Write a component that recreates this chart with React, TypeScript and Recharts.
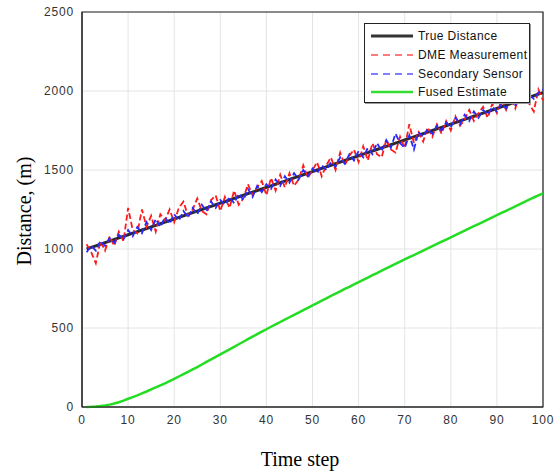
import React from 'react';
import { LineChart, Line, XAxis, YAxis, CartesianGrid, ReferenceArea } from 'recharts';

// time steps 1..100
const steps = [
  1, 2, 3, 4, 5, 6, 7, 8, 9, 10, 11, 12, 13, 14, 15, 16, 17, 18, 19, 20,
  21, 22, 23, 24, 25, 26, 27, 28, 29, 30, 31, 32, 33, 34, 35, 36, 37, 38, 39, 40,
  41, 42, 43, 44, 45, 46, 47, 48, 49, 50, 51, 52, 53, 54, 55, 56, 57, 58, 59, 60,
  61, 62, 63, 64, 65, 66, 67, 68, 69, 70, 71, 72, 73, 74, 75, 76, 77, 78, 79, 80,
  81, 82, 83, 84, 85, 86, 87, 88, 89, 90, 91, 92, 93, 94, 95, 96, 97, 98, 99, 100,
];

const trueDistance = [
  1000, 1010, 1020, 1030, 1040, 1050, 1060, 1070, 1080, 1090, 1100, 1110, 1120, 1130, 1140, 1150, 1160, 1170, 1180, 1190,
  1200, 1210, 1220, 1230, 1240, 1250, 1260, 1270, 1280, 1290, 1300, 1310, 1320, 1330, 1340, 1350, 1360, 1370, 1380, 1390,
  1400, 1410, 1420, 1430, 1440, 1450, 1460, 1470, 1480, 1490, 1500, 1510, 1520, 1530, 1540, 1550, 1560, 1570, 1580, 1590,
  1600, 1610, 1620, 1630, 1640, 1650, 1660, 1670, 1680, 1690, 1700, 1710, 1720, 1730, 1740, 1750, 1760, 1770, 1780, 1790,
  1800, 1810, 1820, 1830, 1840, 1850, 1860, 1870, 1880, 1890, 1900, 1910, 1920, 1930, 1940, 1950, 1960, 1970, 1980, 1990,
];

const dmeMeasurement = [
  1030, 980, 910, 1050, 990, 1080, 1020, 1110, 1050, 1260, 1120, 1100, 1250, 1140, 1210, 1110, 1220, 1180, 1250, 1170,
  1260, 1300, 1210, 1250, 1320, 1240, 1220, 1310, 1340, 1240, 1330, 1260, 1370, 1280, 1320, 1410, 1340, 1390, 1430, 1340,
  1450, 1370, 1470, 1390, 1480, 1400, 1440, 1530, 1450, 1500, 1550, 1460, 1530, 1580, 1500, 1610, 1530, 1590, 1630, 1550,
  1650, 1560, 1670, 1600, 1580, 1690, 1630, 1610, 1710, 1640, 1790, 1670, 1740, 1680, 1770, 1710, 1790, 1730, 1810, 1750,
  1840, 1780, 1820, 1880, 1810, 1860, 1900, 1830, 1920, 1860, 1940, 1880, 1960, 1890, 1990, 2020, 1920, 1870, 2010, 1940,
];

const secondarySensor = [
  980, 1020, 990, 1050, 1020, 1070, 1040, 1090, 1060, 1120, 1080, 1140, 1100, 1170, 1120, 1190, 1140, 1200, 1160, 1220,
  1180, 1240, 1200, 1260, 1220, 1280, 1240, 1300, 1260, 1310, 1280, 1330, 1290, 1350, 1310, 1380, 1330, 1400, 1360, 1410,
  1380, 1440, 1400, 1460, 1420, 1480, 1440, 1500, 1460, 1510, 1480, 1530, 1500, 1550, 1520, 1580, 1540, 1600, 1560, 1620,
  1580, 1640, 1600, 1670, 1620, 1690, 1640, 1730, 1670, 1640, 1720, 1630, 1740, 1710, 1760, 1730, 1780, 1750, 1800, 1770,
  1830, 1790, 1850, 1810, 1870, 1830, 1880, 1850, 1900, 1870, 1920, 1890, 1940, 1910, 1960, 1930, 1980, 1950, 1990, 2010,
];

const fusedEstimate = [
  0, 1, 3, 6, 10, 15, 22, 30, 40, 52, 63, 74, 86, 98, 111, 124, 137, 150, 164, 178,
  193, 208, 223, 238, 253, 269, 285, 301, 317, 333, 349, 365, 381, 397, 413, 429, 445, 461, 477, 492,
  508, 523, 538, 553, 568, 583, 598, 613, 628, 643, 658, 673, 688, 703, 717, 732, 747, 761, 776, 790,
  805, 819, 834, 848, 863, 877, 891, 906, 920, 934, 948, 962, 976, 990, 1004, 1018, 1032, 1046, 1060, 1074,
  1088, 1102, 1116, 1130, 1144, 1158, 1172, 1186, 1200, 1214, 1228, 1242, 1256, 1270, 1284, 1298, 1312, 1326, 1339, 1352,
];

const xTicks = [0, 10, 20, 30, 40, 50, 60, 70, 80, 90, 100];
const yTicks = [0, 500, 1000, 1500, 2000, 2500];

const data = steps.map((t, i) => ({
  t,
  truth: trueDistance[i],
  dme: dmeMeasurement[i],
  secondary: secondarySensor[i],
  fused: fusedEstimate[i],
}));

const legendItems = [
  { label: 'True Distance', color: '#333', dash: undefined, width: 3 },
  { label: 'DME Measurement', color: '#ff5050', dash: '7 5', width: 1.5 },
  { label: 'Secondary Sensor', color: '#5555ff', dash: '7 5', width: 1.5 },
  { label: 'Fused Estimate', color: '#33dd33', dash: undefined, width: 2.5 },
];

const LegendBox = () => (
  <div
    style={{
      position: 'absolute',
      left: 364,
      top: 23,
      width: 166,
      height: 80,
      border: '1px solid #222',
      boxShadow: '1px 1px 0 #999',
      background: '#fff',
      fontFamily: '"Liberation Sans", Arial, sans-serif',
      fontSize: 12,
      color: '#111',
      padding: '3px 0 0 0',
      boxSizing: 'border-box',
    }}
  >
    {legendItems.map((it) => (
      <div key={it.label} style={{ display: 'flex', alignItems: 'center', height: 18.7 }}>
        <svg width={48} height={10} style={{ marginLeft: 5 }}>
          <line x1={1} y1={5} x2={43} y2={5} stroke={it.color} strokeWidth={it.width} strokeDasharray={it.dash} />
        </svg>
        <span style={{ letterSpacing: 0.4 }}>{it.label}</span>
      </div>
    ))}
  </div>
);

const tickStyle = { fontFamily: '"Liberation Sans", Arial, sans-serif', fontSize: 12, fill: '#333', letterSpacing: 0.8 };

export default function App() {
  return (
    <div style={{ position: 'absolute', left: 0, top: 0, width: 558, height: 473, background: '#fff' }}>
      <LineChart width={558} height={473} data={data} margin={{ top: 12, right: 15, bottom: 36, left: 0 }}>
        <CartesianGrid stroke="#e4e4e4" strokeWidth={1} />
        <XAxis
          dataKey="t"
          type="number"
          domain={[0, 100]}
          ticks={xTicks}
          tick={tickStyle}
          tickLine={false}
          tickSize={0}
          tickMargin={8}
          height={30}
          stroke="#222"
          label={{
            content: () => (
              <text x={300} y={466} textAnchor="middle" fontFamily='"Liberation Serif", "Times New Roman", serif' fontSize={20} fill="#000">
                Time step
              </text>
            ),
          }}
        />
        <YAxis
          type="number"
          domain={[0, 2500]}
          ticks={yTicks}
          tick={tickStyle}
          tickLine={false}
          tickSize={0}
          tickMargin={8}
          width={82}
          stroke="#222"
          label={{
            content: () => (
              <text
                x={24}
                y={211}
                transform="rotate(-90 24 211)"
                textAnchor="middle"
                dominantBaseline="central"
                fontFamily='"Liberation Serif", "Times New Roman", serif'
                fontSize={20}
                fill="#000"
              >
                Distance, (m)
              </text>
            ),
          }}
        />
        <ReferenceArea x1={0} x2={100} y1={0} y2={2500} fill="none" stroke="#222" strokeWidth={1.2} ifOverflow="visible" />
        <Line type="linear" dataKey="truth" stroke="#2a2a2a" strokeWidth={3} dot={false} isAnimationActive={false} />
        <Line type="linear" dataKey="dme" stroke="#ff1a1a" strokeWidth={1.8} strokeDasharray="6 3" dot={false} isAnimationActive={false} />
        <Line type="linear" dataKey="secondary" stroke="#2828ff" strokeWidth={1.8} strokeDasharray="6 3" dot={false} isAnimationActive={false} />
        <Line type="linear" dataKey="fused" stroke="#22dd22" strokeWidth={2.5} dot={false} isAnimationActive={false} />
      </LineChart>
      <LegendBox />
    </div>
  );
}
